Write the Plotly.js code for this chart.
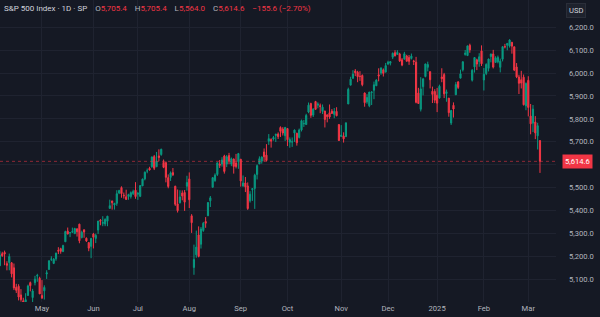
<!DOCTYPE html>
<html>
<head>
<meta charset="utf-8">
<script src="https://cdn.plot.ly/plotly-3.0.1.min.js"></script>
<style>
  html, body { margin:0; padding:0; background:#151924; }
  #chart { width:600px; height:317px; }
</style>
</head>
<body>
<div id="chart"></div>
<script>
// Trading days (per month) shown on the chart
const tradingDays = {
  '2024-04': [5,8,9,10,11,12,15,16,17,18,19,22,23,24,25,26,29,30],
  '2024-05': [1,2,3,6,7,8,9,10,13,14,15,16,17,20,21,22,23,24,28,29,30,31],
  '2024-06': [3,4,5,6,7,10,11,12,13,14,17,18,20,21,24,25,26,27,28],
  '2024-07': [1,2,3,5,8,9,10,11,12,15,16,17,18,19,22,23,24,25,26,29,30,31],
  '2024-08': [1,2,5,6,7,8,9,12,13,14,15,16,19,20,21,22,23,26,27,28,29,30],
  '2024-09': [3,4,5,6,9,10,11,12,13,16,17,18,19,20,23,24,25,26,27,30],
  '2024-10': [1,2,3,4,7,8,9,10,11,14,15,16,17,18,21,22,23,24,25,28,29,30,31],
  '2024-11': [1,4,5,6,7,8,11,12,13,14,15,18,19,20,21,22,25,26,27,29],
  '2024-12': [2,3,4,5,6,9,10,11,12,13,16,17,18,19,20,23,24,26,27,30,31],
  '2025-01': [2,3,6,7,8,10,13,14,15,16,17,21,22,23,24,27,28,29,30,31],
  '2025-02': [3,4,5,6,7,10,11,12,13,14,18,19,20,21,24,25,26,27,28],
  '2025-03': [3,4,5,6,7,10]
};

const openVals = [
  5158.9,5211.4,5217.0,5167.9,5173.0,5171.5,5149.7,5064.6,5069.0,5031.5,5005.4,4987.3,5028.9,5084.9,5019.9,5084.7,5114.1,5103.8,
  5029.0,5049.3,5122.8,5142.4,5187.2,5169.0,5189.0,5225.5,5233.1,5221.1,5263.3,5310.1,5303.1,5305.4,5298.7,5319.3,5340.3,5281.5,5315.9,5278.7,5259.8,5243.2,
  5297.2,5278.2,5314.5,5357.8,5343.8,5341.2,5353.0,5409.1,5441.9,5424.1,5431.1,5476.2,5500.0,5466.8,5459.6,5460.7,5460.7,5473.6,5488.5,
  5471.1,5461.8,5507.4,5537.9,5572.8,5584.2,5591.3,5635.2,5590.8,5638.2,5644.1,5610.1,5608.6,5543.4,5544.5,5565.3,5505.8,5428.7,5433.7,5476.6,5478.7,5505.6,
  5537.8,5376.6,5151.1,5206.4,5293.1,5252.6,5312.7,5351.9,5377.0,5442.1,5501.1,5530.5,5557.2,5602.9,5603.1,5637.8,5602.6,5639.7,5602.9,5624.5,5607.3,5612.7,
  5623.9,5506.7,5520.1,5507.3,5442.1,5490.5,5496.4,5557.5,5603.3,5615.2,5655.5,5641.7,5702.6,5709.5,5711.9,5727.6,5733.7,5762.2,5755.4,5726.5,
  5757.7,5698.2,5698.6,5737.8,5737.3,5719.1,5751.8,5778.4,5775.1,5829.8,5866.7,5816.6,5875.6,5859.4,5857.8,5832.7,5834.5,5817.8,5826.8,5833.9,5819.7,5832.7,5775.3,
  5723.2,5725.2,5722.4,5864.9,5947.2,5976.8,6008.9,6003.6,5985.8,5989.7,5912.8,5874.2,5857.4,5915.0,5925.0,5944.4,5992.3,6000.0,6014.1,6004.0,
  6040.1,6043.0,6069.4,6089.0,6081.4,6083.0,6057.6,6060.2,6074.3,6068.2,6063.8,6052.6,6047.7,5912.7,5842.0,5940.3,5984.7,6025.0,6006.2,5920.7,5919.7,
  5903.3,5891.1,5982.8,5993.3,5910.7,5890.7,5782.1,5859.2,5905.2,5961.5,5977.7,6014.1,6081.4,6076.3,6121.4,5969.0,6027.0,6057.7,6050.8,6096.8,
  5969.7,5998.1,6020.5,6072.2,6083.1,6046.4,6049.3,6025.1,6060.6,6115.5,6121.6,6117.8,6134.5,6114.8,6026.7,5982.7,5970.9,5981.9,5856.7,
  5968.3,5812.0,5781.4,5785.9,5726.0,5705.4
];

const highVals = [
  5222.2,5219.6,5224.8,5178.4,5211.8,5175.0,5168.4,5079.8,5078.0,5056.7,5019.0,5038.8,5076.1,5089.5,5057.8,5114.6,5123.5,5110.8,
  5096.1,5073.2,5139.1,5181.0,5200.2,5192.0,5215.3,5239.7,5237.3,5250.4,5311.8,5325.5,5305.5,5325.3,5324.3,5323.2,5341.9,5311.7,5315.9,5282.3,5260.2,5280.3,
  5302.1,5298.8,5354.2,5362.4,5375.1,5365.8,5376.0,5447.3,5441.9,5432.4,5488.5,5490.4,5505.5,5478.3,5490.7,5472.9,5483.1,5490.8,5523.6,
  5479.6,5509.7,5539.3,5570.3,5583.1,5590.8,5635.4,5642.5,5655.6,5666.9,5669.7,5622.5,5614.1,5557.5,5570.4,5585.3,5508.0,5491.6,5488.3,5487.7,5489.5,5551.5,
  5566.2,5383.9,5250.9,5312.3,5330.6,5328.0,5350.1,5371.2,5436.5,5463.2,5546.2,5562.0,5608.3,5620.5,5632.7,5643.2,5641.8,5651.6,5631.2,5627.0,5647.0,5651.4,
  5623.9,5553.0,5546.3,5522.5,5484.2,5497.9,5560.4,5600.7,5636.3,5636.1,5670.8,5689.8,5733.6,5715.1,5725.4,5735.3,5741.0,5767.4,5763.8,5765.1,
  5757.7,5719.1,5718.8,5753.6,5739.3,5757.6,5796.8,5795.0,5822.1,5871.4,5870.4,5846.5,5878.5,5872.2,5866.9,5863.0,5834.9,5817.8,5862.8,5842.9,5847.2,5850.9,5775.3,
  5772.6,5741.4,5783.4,5936.1,5983.8,6012.5,6017.3,6009.9,6008.2,5993.9,5915.1,5908.1,5917.7,5920.7,5962.7,5972.9,6020.8,6025.4,6020.2,6044.2,
  6053.6,6052.1,6089.8,6100.0,6100.0,6088.5,6065.4,6092.6,6079.7,6078.6,6085.2,6057.7,6070.7,5935.5,5982.1,5978.3,6040.1,6049.8,6006.2,5940.8,5929.7,
  5935.1,5949.3,6021.0,6000.7,5927.9,5890.7,5838.9,5871.9,5960.6,5964.7,6015.0,6051.5,6100.8,6118.7,6128.2,6017.2,6069.8,6062.8,6086.6,6120.9,
  6022.1,6042.5,6062.9,6084.0,6101.3,6073.4,6076.3,6063.1,6116.9,6127.5,6129.6,6147.4,6134.5,6114.8,6043.7,5992.7,6009.8,5993.7,5959.4,
  5986.1,5865.1,5860.6,5812.1,5783.0,5705.4
];

const lowVals = [
  5157.2,5197.4,5160.8,5138.7,5138.8,5107.9,5052.5,5039.8,5007.3,5001.9,4953.6,4969.4,5028.0,5047.0,4990.6,5073.1,5088.7,5035.3,
  5013.5,5011.1,5101.2,5142.4,5179.0,5165.9,5180.4,5209.7,5211.2,5218.0,5263.3,5296.2,5283.6,5302.4,5297.9,5286.0,5256.9,5278.4,5280.9,5262.7,5222.1,5191.7,
  5234.3,5257.6,5297.6,5335.4,5331.3,5331.5,5331.3,5409.1,5403.8,5403.8,5420.4,5471.3,5455.6,5452.0,5447.6,5446.6,5451.9,5467.5,5451.1,
  5446.5,5458.4,5507.4,5531.6,5562.5,5574.6,5586.4,5576.5,5590.4,5614.8,5639.0,5584.8,5522.8,5497.0,5529.0,5550.9,5420.0,5391.0,5430.7,5444.4,5398.1,5487.0,
  5410.4,5302.0,5119.3,5193.6,5195.5,5233.9,5306.8,5324.4,5377.0,5415.2,5501.1,5525.2,5550.7,5585.5,5591.6,5561.0,5589.5,5602.3,5593.5,5561.0,5583.7,5581.8,
  5504.3,5503.7,5480.3,5402.6,5434.5,5441.7,5407.0,5535.5,5603.3,5604.5,5614.1,5615.1,5686.4,5674.5,5704.9,5699.0,5712.1,5721.0,5727.3,5703.5,
  5681.3,5674.0,5677.6,5699.4,5683.1,5714.6,5745.0,5764.8,5775.1,5824.8,5804.5,5808.3,5840.3,5846.1,5824.8,5821.2,5762.4,5784.9,5800.0,5823.1,5802.8,5811.3,5703.8,
  5723.2,5696.5,5722.1,5864.9,5947.2,5976.8,5986.7,5960.1,5965.9,5942.3,5853.0,5866.0,5850.9,5860.6,5885.9,5944.4,5963.9,5992.3,5984.9,6004.0,
  6035.3,6033.4,6061.1,6072.8,6080.0,6048.6,6029.9,6060.2,6051.3,6035.8,6059.1,6035.2,5867.8,5866.1,5832.3,5902.6,5981.4,6007.4,5933.0,5869.2,5868.9,
  5829.5,5888.7,5960.0,5890.7,5874.8,5809.4,5773.3,5805.7,5905.2,5930.5,5977.7,6006.9,6076.0,6074.7,6088.7,5962.9,6002.1,6013.0,6027.5,6030.9,
  5923.9,5990.9,6007.1,6046.8,6020.0,6044.8,6042.3,6003.0,6051.0,6107.6,6099.5,6111.2,6084.6,6008.6,5977.8,5908.5,5932.7,5858.8,5837.7,
  5810.9,5732.6,5742.4,5711.6,5666.3,5564.0
];

const closeVals = [
  5204.3,5202.4,5209.9,5160.6,5199.1,5123.4,5061.8,5051.4,5022.2,5011.1,4967.2,5010.6,5070.6,5071.6,5048.4,5100.0,5116.2,5035.7,
  5018.4,5064.2,5127.8,5180.7,5187.7,5187.7,5214.1,5222.7,5221.4,5246.7,5308.2,5297.1,5303.3,5308.1,5321.4,5307.0,5267.8,5304.7,5306.0,5267.0,5235.5,5277.5,
  5283.4,5291.3,5354.0,5353.0,5347.0,5360.8,5375.3,5421.0,5433.7,5431.6,5473.2,5487.0,5473.2,5464.6,5447.9,5469.3,5477.9,5482.9,5460.5,
  5475.1,5509.0,5537.0,5567.2,5572.9,5577.0,5633.9,5584.5,5615.4,5631.2,5667.2,5588.3,5544.6,5505.0,5564.4,5555.7,5427.1,5399.2,5459.1,5463.5,5436.4,5522.3,
  5446.7,5346.6,5186.3,5240.0,5199.5,5319.3,5344.2,5344.4,5434.4,5455.2,5543.2,5554.3,5608.3,5597.1,5620.9,5570.6,5634.6,5616.8,5625.8,5592.2,5592.0,5648.4,
  5528.9,5520.1,5503.4,5408.4,5471.1,5495.5,5554.1,5595.8,5626.0,5633.1,5634.6,5618.3,5713.6,5702.6,5718.6,5732.9,5722.3,5745.4,5738.2,5762.5,
  5708.8,5709.5,5699.9,5751.1,5695.9,5751.1,5792.0,5780.1,5815.0,5859.9,5815.3,5842.5,5841.5,5864.7,5854.0,5851.2,5797.4,5809.9,5808.1,5823.5,5832.9,5813.7,5705.5,
  5728.8,5712.7,5782.8,5929.0,5973.1,5995.5,6001.4,5984.0,5985.4,5949.2,5870.6,5893.6,5917.0,5917.1,5948.7,5969.3,5987.4,6021.6,5998.7,6032.4,
  6047.2,6049.9,6086.5,6075.1,6090.3,6052.9,6034.9,6084.2,6051.3,6051.1,6074.1,6050.6,5872.2,5867.1,5930.9,5974.1,6040.0,6037.6,5970.8,5906.9,5881.6,
  5868.6,5942.5,5975.4,5909.0,5918.3,5827.0,5836.2,5842.9,5949.9,5937.3,5996.7,6049.2,6086.4,6118.7,6101.2,6012.3,6067.7,6039.3,6071.2,6040.5,
  5994.6,6037.9,6061.5,6083.6,6026.0,6066.4,6068.5,6052.0,6115.1,6114.6,6129.6,6144.2,6117.5,6013.1,5983.3,5955.3,5956.1,5861.6,5954.5,
  5849.7,5778.2,5842.6,5738.5,5770.2,5614.6
];

const tickDates  = ['2024-05-01','2024-06-03','2024-07-01','2024-08-01','2024-09-03','2024-10-01','2024-11-01','2024-12-02','2025-01-02','2025-02-03','2025-03-03'];
const tickLabels = ['May','Jun','Jul','Aug','Sep','Oct','Nov','Dec','2025','Feb','Mar'];
const priceTicks = [5100,5200,5300,5400,5500,5600,5700,5800,5900,6000,6100,6200];
const priceTickLabels = ['5,100.0','5,200.0','5,300.0','5,400.0','5,500.0','','5,700.0','5,800.0','5,900.0','6,000.0','6,100.0','6,200.0'];
const lastPrice = 5614.6;
const headerName = 'S&amp;P 500 Index · 1D · SP';
const headerO = '5,705.4', headerH = '5,705.4', headerL = '5,564.0', headerC = '5,614.6', headerChg = '−155.6 (−2.70%)';

const dates = [];
Object.keys(tradingDays).forEach(m => tradingDays[m].forEach(d => dates.push(m + '-' + String(d).padStart(2,'0'))));

const UP = '#089981', DOWN = '#f23645';
const BG = '#151924', GRID = '#1f2330', TXT = '#b2b5be';
const FONT = 'Roboto, Arial, sans-serif';

const trace = {
  type: 'candlestick',
  x: dates, open: openVals, high: highVals, low: lowVals, close: closeVals,
  increasing: { line: { color: UP, width: 1 }, fillcolor: UP },
  decreasing: { line: { color: DOWN, width: 1 }, fillcolor: DOWN },
  whiskerwidth: 0,
  hoverinfo: 'skip',
  showlegend: false
};

const g = (c, t) => '<span style="color:' + c + '">' + t + '</span>';
const sp = '\u00a0\u00a0\u00a0\u00a0';
const headerText = g('#d1d4dc', headerName) + sp +
  g(TXT,'O') + g(DOWN, headerO) + sp + g(TXT,'H') + g(DOWN, headerH) + sp +
  g(TXT,'L') + g(DOWN, headerL) + sp + g(TXT,'C') + g(DOWN, headerC) + sp + g(DOWN, headerChg);

const layout = {
  width: 600, height: 317,
  margin: { l: 0, r: 44, t: 0, b: 15 },
  paper_bgcolor: BG, plot_bgcolor: BG,
  font: { family: FONT, size: 7.6, color: TXT },
  xaxis: {
    type: 'category',
    range: [0.04, 237.85],
    rangeslider: { visible: false },
    tickmode: 'array', tickvals: tickDates, ticktext: tickLabels,
    showgrid: true, gridcolor: GRID, gridwidth: 1,
    ticks: '', showline: false, zeroline: false,
    tickfont: { family: FONT, size: 7.6, color: TXT },
    fixedrange: true
  },
  yaxis: {
    side: 'right',
    range: [5000.4, 6319],
    tickmode: 'array', tickvals: priceTicks, ticktext: priceTickLabels,
    showgrid: true, gridcolor: GRID, gridwidth: 1,
    ticks: '', showline: false, zeroline: false,
    ticklabelstandoff: 12,
    tickfont: { family: FONT, size: 7.6, color: TXT },
    fixedrange: true
  },
  shapes: [
    { type: 'line', xref: 'paper', x0: 0, x1: 1, yref: 'y', y0: lastPrice, y1: lastPrice,
      line: { color: DOWN, width: 1, dash: 'dot' }, opacity: 0.55 }
  ],
  annotations: [
    { xref: 'paper', yref: 'paper', x: 0, y: 1, xanchor: 'left', yanchor: 'top',
      xshift: 2, yshift: -2, showarrow: false, align: 'left',
      text: headerText, font: { family: FONT, size: 8, color: TXT } },
    { xref: 'paper', yref: 'y', x: 1, y: lastPrice, xanchor: 'left', yanchor: 'middle',
      xshift: 6, showarrow: false, text: '5,614.6',
      bgcolor: DOWN, borderpad: 2,
      font: { family: FONT, size: 7.6, color: '#ffffff' } },
    { xref: 'paper', yref: 'paper', x: 1, y: 1, xanchor: 'left', yanchor: 'top',
      xshift: 10, yshift: -3, showarrow: false, text: 'USD',
      bgcolor: '#1e222d', bordercolor: '#2a2e39', borderwidth: 1, borderpad: 2,
      font: { family: FONT, size: 7.6, color: '#d1d4dc' } }
  ],
  hovermode: false
};

Plotly.newPlot('chart', [trace], layout, { staticPlot: true, displayModeBar: false });
</script>
</body>
</html>
